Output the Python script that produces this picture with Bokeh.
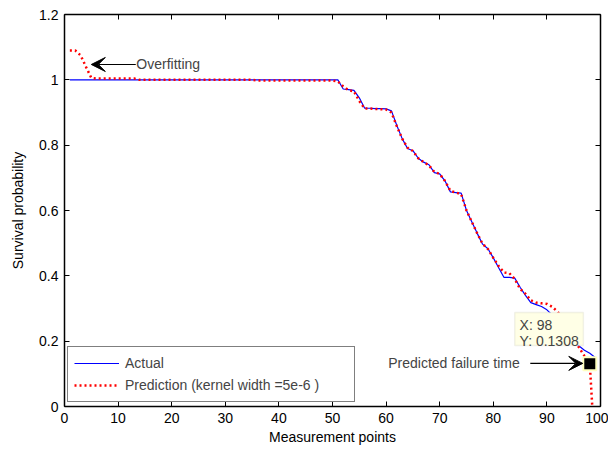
from bokeh.plotting import figure
from bokeh.models import (Range1d, LinearAxis, FixedTicker, Legend, LegendItem,
                          Arrow, VeeHead, Label, BoxAnnotation, ColumnDataSource)
from bokeh.embed import file_html
from bokeh.resources import INLINE

# ---------------- data ----------------
x_points = list(range(1, 100))

actual = ([1.0] * 51 +
          [0.972, 0.970, 0.968, 0.945, 0.913, 0.913, 0.912, 0.912, 0.911, 0.905,
           0.860, 0.820, 0.790, 0.783, 0.760, 0.748, 0.740, 0.716, 0.712, 0.690,
           0.657, 0.655, 0.653, 0.600, 0.565, 0.530, 0.497, 0.483, 0.455, 0.425,
           0.395, 0.395, 0.393, 0.365, 0.340, 0.318, 0.312, 0.306, 0.296, 0.280,
           0.265, 0.245, 0.225, 0.205, 0.185, 0.172, 0.163, 0.150])

prediction = ([1.090, 1.090, 1.075, 1.040, 1.006] + [1.004] * 8 + [1.0] * 22 +
              [0.998] * 15 +
              [0.995, 0.980, 0.968, 0.965, 0.935, 0.912, 0.912, 0.911, 0.910, 0.909,
               0.900, 0.858, 0.820, 0.792, 0.782, 0.760, 0.748, 0.738, 0.718, 0.712,
               0.690, 0.660, 0.655, 0.650, 0.600, 0.565, 0.530, 0.498, 0.482, 0.455,
               0.430, 0.410, 0.408, 0.390, 0.360, 0.345, 0.325, 0.318, 0.316, 0.314,
               0.305, 0.290, 0.270, 0.240, 0.210, 0.180, 0.155, 0.1308, -0.150])

failure_x = [98]
failure_y = [0.1308]

x_ticks = [0, 10, 20, 30, 40, 50, 60, 70, 80, 90, 100]
y_ticks = [0, 0.2, 0.4, 0.6, 0.8, 1, 1.2]

FONT = "Liberation Sans"

p = figure(frame_width=536, frame_height=392, output_backend="svg", toolbar_location=None,
           x_range=Range1d(0, 100), y_range=Range1d(0, 1.2),
           x_axis_label="Measurement points", y_axis_label="Survival probability",
           min_border_left=64, min_border_right=8, min_border_top=14, min_border_bottom=40)
p.outline_line_color = None
p.xgrid.visible = False
p.ygrid.visible = False
p.background_fill_color = "white"

def style_axis(ax, show_labels=True):
    ax.axis_line_color = "black"
    ax.axis_line_width = 1.5
    ax.major_tick_in = 5
    ax.major_tick_out = 0
    ax.minor_tick_in = 0
    ax.minor_tick_out = 0
    ax.major_tick_line_color = "black"
    ax.major_label_text_font = FONT
    ax.major_label_text_font_size = "14px"
    ax.major_label_text_color = "black"
    ax.axis_label_text_font = FONT
    ax.axis_label_text_font_size = "14px"
    ax.axis_label_text_font_style = "normal"
    ax.axis_label_text_color = "black"
    if not show_labels:
        ax.major_label_overrides = {t: "" for t in ax.ticker.ticks}
        ax.major_label_standoff = 0

p.xaxis.ticker = FixedTicker(ticks=x_ticks)
p.yaxis.ticker = FixedTicker(ticks=y_ticks)
p.yaxis.major_label_overrides = {0: "0", 0.2: "0.2", 0.4: "0.4", 0.6: "0.6",
                                 0.8: "0.8", 1: "1", 1.2: "1.2"}
style_axis(p.xaxis[0])
style_axis(p.yaxis[0])
p.xaxis.major_label_standoff = 6
p.yaxis.major_label_standoff = 6
p.xaxis.axis_label_standoff = 3
p.yaxis.axis_label_standoff = 10

top = LinearAxis(ticker=FixedTicker(ticks=x_ticks))
right = LinearAxis(ticker=FixedTicker(ticks=y_ticks))
style_axis(top, False)
style_axis(right, False)
p.add_layout(top, "above")
p.add_layout(right, "right")

src = ColumnDataSource(dict(x=x_points, actual=actual, prediction=prediction))
r_act = p.line("x", "actual", source=src, line_color="#0000FF", line_width=1.2)
r_pred = p.line("x", "prediction", source=src, line_color="#FF0000", line_width=2.5,
                line_dash="2 3")

# data tip box
box = BoxAnnotation(left=84.0, right=96.8, bottom=0.187, top=0.288,
                    fill_color="#FFFFE6", fill_alpha=1.0,
                    line_color="#D0D0C0", line_width=1.5)
p.add_layout(box)
p.add_layout(Label(x=84.9, y=0.248, text="X: 98", text_font=FONT,
                   text_font_size="14px", text_baseline="middle"))
p.add_layout(Label(x=84.9, y=0.200, text="Y: 0.1308", text_font=FONT,
                   text_font_size="14px", text_baseline="middle"))

p.scatter(failure_x, failure_y, marker="square", size=13, fill_color="black",
          line_color="#FFFFC0", line_width=2)

# annotations
p.add_layout(Arrow(x_start=13.3, y_start=1.047, x_end=5.0, y_end=1.047,
                   line_color="black", line_width=1.2,
                   end=VeeHead(size=14, fill_color="black", line_color="black")))
p.add_layout(Label(x=13.4, y=1.047, text="Overfitting", text_font=FONT,
                   text_font_size="14px", text_baseline="middle"))

p.add_layout(Arrow(x_start=86.9, y_start=0.132, x_end=96.7, y_end=0.132,
                   line_color="black", line_width=1.2,
                   end=VeeHead(size=14, fill_color="black", line_color="black")))
p.add_layout(Label(x=60.4, y=0.132, text="Predicted failure time", text_font=FONT,
                   text_font_size="14px", text_baseline="middle"))

legend = Legend(items=[LegendItem(label="Actual", renderers=[r_act]),
                       LegendItem(label="Prediction (kernel width =5e-6 )", renderers=[r_pred])],
                location=(3, 4), orientation="vertical",
                label_text_font=FONT, label_text_font_size="14px",
                glyph_width=45, glyph_height=20, label_height=20, label_width=223,
                label_standoff=6, spacing=2, padding=6, margin=0,
                border_line_color="black", border_line_width=1.2,
                background_fill_color="white", background_fill_alpha=1.0)
p.add_layout(legend)

open("out.html", "w").write(file_html(p, INLINE))
